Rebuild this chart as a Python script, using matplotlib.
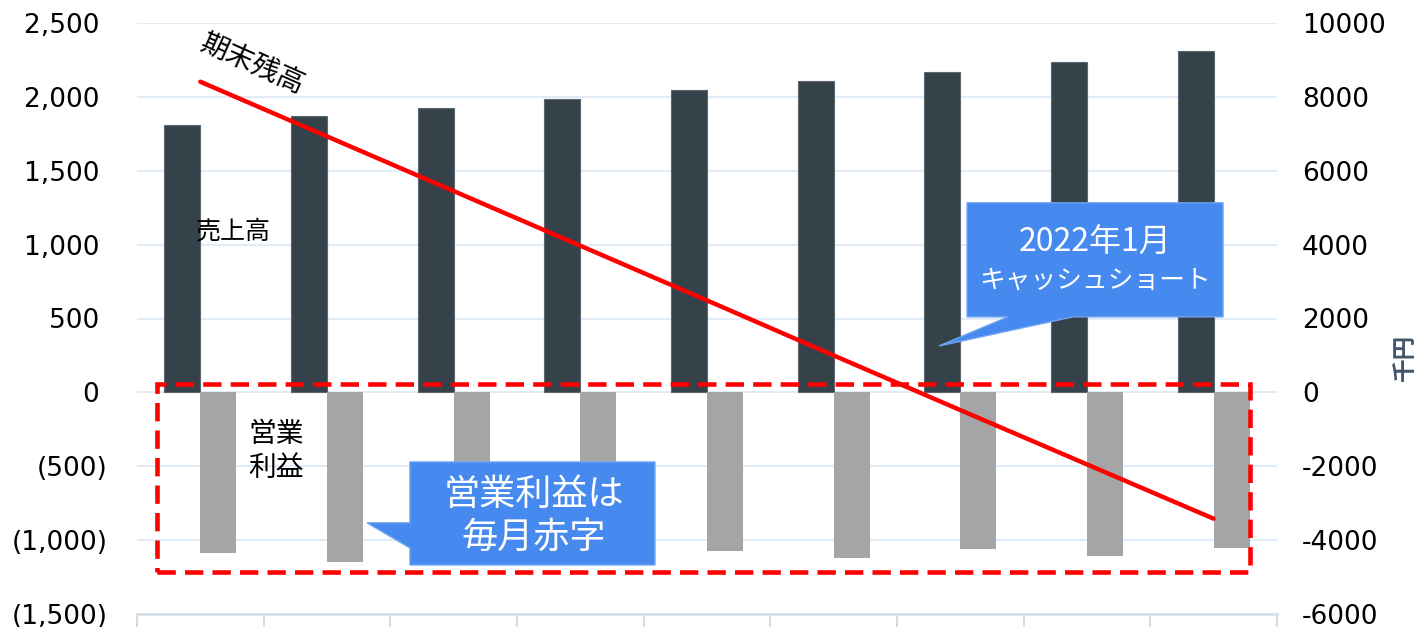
import matplotlib
matplotlib.use("Agg")
import matplotlib.pyplot as plt
import numpy as np
from matplotlib.patches import Polygon, Rectangle
from matplotlib.ticker import FuncFormatter

plt.rcParams["font.family"] = ["Noto Sans CJK JP", "DejaVu Sans"]

# ---------------------------------------------------------------------------
# Data (month labels are cut off in the original)
# ---------------------------------------------------------------------------
n_months = 9
sales = [1810, 1870, 1925, 1985, 2045, 2110, 2170, 2235, 2310]          # 売上高
op_profit = [-1090, -1150, -1100, -1090, -1075, -1120, -1060, -1110, -1055]  # 営業利益
balance = [8410, 6930, 5450, 3970, 2490, 1000, -480, -1950, -3420]      # 期末残高 (千円)

left_ticks = list(range(-1500, 2501, 500))
right_ticks = list(range(-6000, 10001, 2000))

DARK = "#36424A"
GRAY = "#A5A5A5"
RED = "#FF0000"
BLUE = "#468AF0"
GRID = "#E2EBF8"
AXIS = "#D3DDE8"

TICK_FONT = dict(family="DejaVu Sans", size=19)


def left_fmt(v, _pos):
    if v < 0:
        return f"({-v:,.0f})"
    return f"{v:,.0f} "


fig = plt.figure(figsize=(14.19, 6.27), dpi=100)
ax = fig.add_axes([137 / 1419, 13 / 627, 1140 / 1419, 591 / 627])
x = np.arange(n_months)
w = 0.285

ax.bar(x - w / 2, sales, w, color=DARK, edgecolor="#5C6670", linewidth=0.8, zorder=2)
ax.bar(x + w / 2, op_profit, w, color=GRAY, zorder=2)

ax.set_xlim(-0.5, n_months - 0.5)
ax.set_ylim(-1500, 2500)
ax.set_yticks(left_ticks)
ax.yaxis.set_major_formatter(FuncFormatter(left_fmt))
ax.tick_params(axis="y", length=0, pad=21)
for lbl in ax.get_yticklabels():
    lbl.set_fontfamily(TICK_FONT["family"])
    lbl.set_fontsize(TICK_FONT["size"])
ax.yaxis.grid(True, color=GRID, lw=1.5)
ax.set_axisbelow(True)

ax.set_xticks(np.arange(-0.5, n_months, 1))
ax.set_xticklabels([])
ax.tick_params(axis="x", length=14, width=1.5, color=AXIS, direction="out")
for side in ["top", "left", "right"]:
    ax.spines[side].set_visible(False)
ax.spines["bottom"].set_color(AXIS)
ax.spines["bottom"].set_linewidth(1.8)

# right axis: cash balance
ax2 = ax.twinx()
ax2.plot(x, balance, color=RED, lw=3.2, solid_capstyle="round", zorder=3)
ax2.set_ylim(-6000, 10000)
ax2.set_yticks(right_ticks)
ax2.set_yticklabels([str(t) for t in right_ticks], **TICK_FONT)
ax2.tick_params(axis="y", length=0, pad=18)
for side in ["top", "left", "right", "bottom"]:
    ax2.spines[side].set_visible(False)
ax2.text(1.112, 0.435, "千円", transform=ax2.transAxes, rotation=90,
         ha="center", va="center", fontsize=17, fontweight="bold",
         color="#44546A")

# red dashed frame around the operating-profit area
td = ax.transData
ax2.add_patch(Rectangle((-0.342, -1215), 8.629, 1272, transform=td, fill=False,
                        edgecolor=RED, lw=3.3, linestyle=(0, (4, 2)), zorder=4))

# series labels
ax2.text(0.416, 2223, "期末残高", transform=td, rotation=-24, ha="center",
         va="center", fontsize=20, color="black")
ax2.text(0.258, 1092, "売上高", transform=td, ha="center", va="center",
         fontsize=18, color="black")
ax2.text(0.597, -396, "営業\n利益", transform=td, ha="center", va="center",
         fontsize=20, color="black", linespacing=1.15)

# callout: cash short
c1 = [(6.053, 511), (6.376, 511), (5.831, 314), (6.889, 511), (8.074, 511),
      (8.074, 1283), (6.053, 1283)]
ax2.add_patch(Polygon(c1, closed=True, transform=td, facecolor=BLUE,
                      edgecolor="#6FA3F3", lw=1, zorder=5))
ax2.text(7.063, 1010, "2022年1月", transform=td, ha="center", va="center",
         fontsize=23, color="white", zorder=6)
ax2.text(7.063, 755, "キャッシュショート", transform=td, ha="center",
         va="center", fontsize=18.5, color="white", zorder=6)

# callout: operating loss every month
c2 = [(1.655, -471), (3.589, -471), (3.589, -1168), (1.655, -1168),
      (1.655, -1053), (1.316, -883), (1.655, -883)]
ax2.add_patch(Polygon(c2, closed=True, transform=td, facecolor=BLUE,
                      edgecolor="#6FA3F3", lw=1, zorder=5))
ax2.text(2.634, -695, "営業利益は", transform=td, ha="center", va="center",
         fontsize=26, color="white", zorder=6)
ax2.text(2.634, -986, "毎月赤字", transform=td, ha="center", va="center",
         fontsize=26, color="white", zorder=6)

fig.savefig("out.png", dpi=100)
